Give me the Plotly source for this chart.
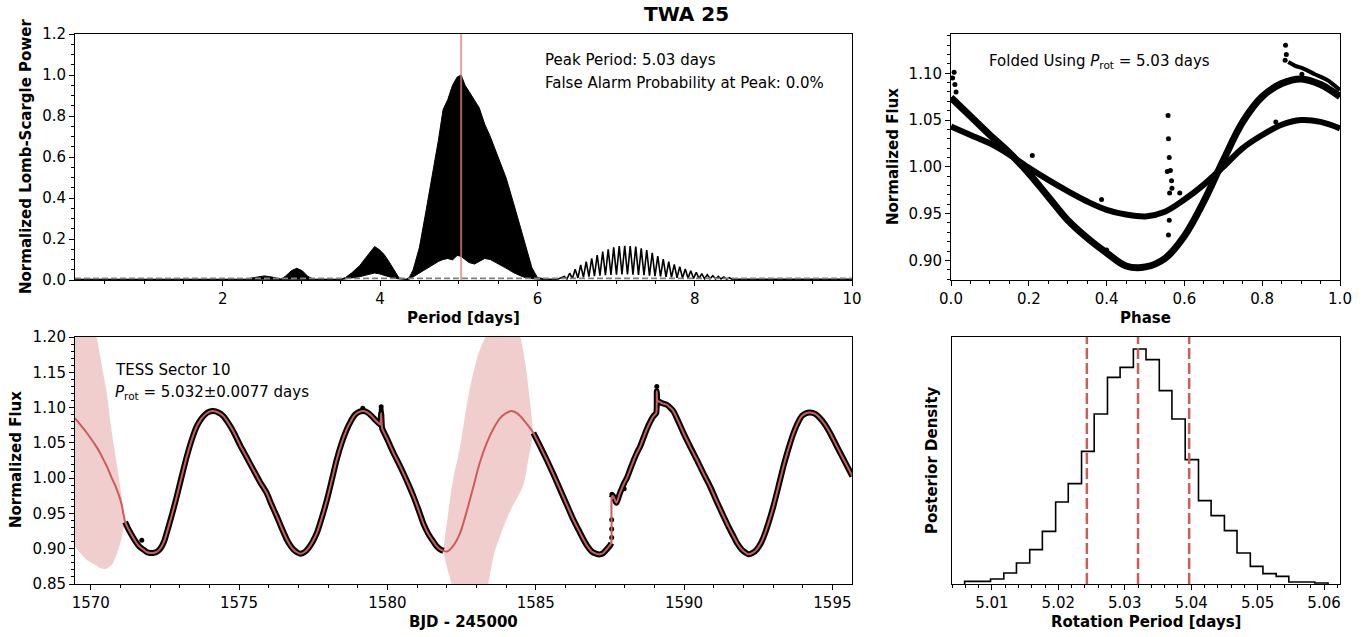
import plotly.graph_objects as go

# ---------------- Periodogram (top-left) ----------------
ls_env_period = [0.12, 2.30, 2.40, 2.53, 2.66, 2.74, 2.80, 2.87, 2.94, 3.01,
                 3.08, 3.15, 3.50, 3.56, 3.64, 3.74, 3.82, 3.87, 3.93, 3.99,
                 4.05, 4.12, 4.18, 4.24, 4.33, 4.37, 4.42, 4.50, 4.58, 4.66,
                 4.74, 4.80, 4.86, 4.92, 4.98, 5.03, 5.08, 5.13, 5.20, 5.26,
                 5.33, 5.40, 5.50, 5.60, 5.70, 5.80, 5.87, 5.93, 6.00, 6.10, 6.25]
ls_env_upper = [0.004, 0.004, 0.012, 0.020, 0.012, 0.004, 0.020, 0.045, 0.057, 0.045,
                0.018, 0.004, 0.004, 0.012, 0.035, 0.070, 0.110, 0.135, 0.163, 0.148,
                0.125, 0.085, 0.049, 0.010, 0.004, 0.012, 0.050, 0.160, 0.330, 0.500,
                0.680, 0.830, 0.880, 0.950, 0.990, 1.000, 0.950, 0.920, 0.880, 0.840,
                0.760, 0.700, 0.600, 0.500, 0.370, 0.240, 0.140, 0.060, 0.012, 0.005, 0.004]
ls_env_lower = [0.002, 0.002, 0.003, 0.004, 0.003, 0.002, 0.003, 0.004, 0.005, 0.004,
                0.003, 0.002, 0.002, 0.004, 0.010, 0.016, 0.024, 0.030, 0.034, 0.030,
                0.024, 0.015, 0.008, 0.004, 0.002, 0.004, 0.015, 0.035, 0.055, 0.072,
                0.090, 0.100, 0.105, 0.098, 0.120, 0.115, 0.100, 0.085, 0.078, 0.090,
                0.105, 0.100, 0.080, 0.058, 0.035, 0.018, 0.008, 0.004, 0.003, 0.002, 0.002]

ls_peak_period = [6.34, 6.41, 6.48, 6.55, 6.62, 6.69, 6.76, 6.83, 6.90, 6.97,
                  7.04, 7.11, 7.18, 7.25, 7.32, 7.39, 7.46, 7.53, 7.60, 7.67,
                  7.74, 7.81, 7.88, 7.95, 8.02, 8.09, 8.16, 8.23, 8.30, 8.37, 8.44]
ls_peak_power = [0.017, 0.033, 0.052, 0.073, 0.089, 0.106, 0.122, 0.138, 0.150, 0.159,
                 0.166, 0.167, 0.166, 0.163, 0.154, 0.146, 0.133, 0.117, 0.102, 0.089,
                 0.076, 0.065, 0.054, 0.045, 0.037, 0.031, 0.026, 0.021, 0.018, 0.015, 0.011]
ls_trough_period = [6.375, 6.445, 6.515, 6.585, 6.655, 6.725, 6.795, 6.865, 6.935, 7.005,
                    7.075, 7.145, 7.215, 7.285, 7.355, 7.425, 7.495, 7.565, 7.635, 7.705,
                    7.775, 7.845, 7.915, 7.985, 8.055, 8.125, 8.195, 8.265, 8.335, 8.405, 8.475]
ls_trough_power = [0.005, 0.007, 0.010, 0.013, 0.016, 0.019, 0.021, 0.023, 0.025, 0.026,
                   0.027, 0.027, 0.026, 0.025, 0.023, 0.021, 0.019, 0.017, 0.015, 0.013,
                   0.011, 0.010, 0.009, 0.008, 0.007, 0.006, 0.006, 0.005, 0.005, 0.004, 0.004]
ls_tail_period = [8.55, 10.0]
ls_tail_power = [0.004, 0.003]
ls_start_period = [6.25]
ls_start_power = [0.003]

peak_period = 5.03
fap_level = 0.008

# ---------------- Folded light curve (top-right) ----------------
fold_phase = [0.00, 0.05, 0.10, 0.15, 0.20, 0.25, 0.30, 0.35, 0.40, 0.45, 0.50,
              0.55, 0.60, 0.65, 0.70, 0.75, 0.80, 0.85, 0.90, 0.95, 1.00]
fold_flux_a = [1.074, 1.054, 1.034, 1.015, 0.993, 0.968, 0.943, 0.924, 0.908, 0.894, 0.893,
               0.902, 0.926, 0.963, 1.007, 1.048, 1.075, 1.089, 1.094, 1.088, 1.075]
fold_flux_b = [1.043, 1.034, 1.025, 1.013, 0.999, 0.986, 0.974, 0.963, 0.954, 0.949, 0.947,
               0.952, 0.965, 0.981, 1.000, 1.020, 1.034, 1.045, 1.050, 1.048, 1.041]
fold_phase_flare = [0.867, 0.885, 0.906, 0.935, 0.966, 1.000]
fold_flux_flare = [1.112, 1.108, 1.105, 1.099, 1.093, 1.082]
fold_out_phase = [0.008, 0.004, 0.010, 0.013, 0.209, 0.387, 0.400, 0.558, 0.559, 0.561,
                  0.556, 0.564, 0.567, 0.568, 0.562, 0.561, 0.559, 0.588, 0.835, 0.860,
                  0.862, 0.859, 0.902]
fold_out_flux = [1.101, 1.095, 1.088, 1.080, 1.012, 0.965, 0.911, 1.055, 1.030, 1.010,
                 0.995, 0.996, 0.985, 0.977, 0.972, 0.943, 0.927, 0.972, 1.048, 1.130,
                 1.120, 1.114, 1.099]
p_fold = 5.03

# ---------------- Light curve (bottom-left) ----------------
lc1_time = [1571.16, 1571.28, 1571.40, 1571.50, 1571.60, 1571.70, 1571.80, 1571.90, 1572.00, 1572.10,
            1572.20, 1572.30, 1572.39, 1572.48, 1572.56, 1572.73, 1572.90, 1573.07, 1573.24, 1573.41,
            1573.57, 1573.71, 1573.85, 1573.99, 1574.13, 1574.30, 1574.47, 1574.64, 1574.81, 1575.03,
            1575.25, 1575.48, 1575.70, 1575.93, 1576.10, 1576.27, 1576.44, 1576.61, 1576.72, 1576.83,
            1576.95, 1577.06, 1577.20, 1577.34, 1577.48, 1577.62, 1577.79, 1577.96, 1578.13, 1578.29,
            1578.46, 1578.63, 1578.77, 1578.91, 1579.05, 1579.19, 1579.33, 1579.47, 1579.60, 1579.70,
            1579.76, 1579.79, 1579.82, 1579.87, 1580.03, 1580.20, 1580.37, 1580.54, 1580.71, 1580.88,
            1581.05, 1581.21, 1581.38, 1581.55, 1581.67, 1581.78, 1581.89]
lc1_flux = [0.938, 0.927, 0.918, 0.911, 0.905, 0.901, 0.898, 0.895, 0.894, 0.894,
            0.895, 0.898, 0.903, 0.911, 0.922, 0.947, 0.974, 1.003, 1.031, 1.055,
            1.073, 1.083, 1.090, 1.094, 1.095, 1.093, 1.088, 1.078, 1.066, 1.047,
            1.030, 1.012, 0.995, 0.979, 0.962, 0.946, 0.929, 0.913, 0.905, 0.899,
            0.895, 0.893, 0.895, 0.901, 0.910, 0.922, 0.944, 0.969, 0.998, 1.026,
            1.050, 1.069, 1.081, 1.090, 1.094, 1.095, 1.093, 1.088, 1.082, 1.078,
            1.076, 1.092, 1.071, 1.066, 1.052, 1.036, 1.022, 1.007, 0.991, 0.974,
            0.955, 0.936, 0.921, 0.910, 0.903, 0.899, 0.897]

lc2_time = [1584.92, 1585.15, 1585.37, 1585.60, 1585.82, 1586.05, 1586.27, 1586.44, 1586.61, 1586.75,
            1586.89, 1587.03, 1587.17, 1587.28, 1587.39, 1587.51, 1587.55, 1587.56, 1587.60, 1587.66,
            1587.72, 1587.77, 1587.83, 1587.90, 1587.98, 1588.07, 1588.18, 1588.29, 1588.40, 1588.52,
            1588.63, 1588.74, 1588.86, 1588.97, 1589.06, 1589.08, 1589.10, 1589.13, 1589.27, 1589.42,
            1589.53, 1589.64, 1589.81, 1589.98, 1590.20, 1590.43, 1590.65, 1590.88, 1591.10, 1591.33,
            1591.50, 1591.66, 1591.80, 1591.94, 1592.05, 1592.17, 1592.31, 1592.45, 1592.59, 1592.73,
            1592.87, 1593.01, 1593.18, 1593.35, 1593.52, 1593.69, 1593.83, 1593.97, 1594.11, 1594.25,
            1594.42, 1594.58, 1594.75, 1594.92, 1595.09, 1595.26, 1595.46, 1595.67]
lc2_flux = [1.064, 1.045, 1.026, 1.005, 0.984, 0.962, 0.941, 0.927, 0.913, 0.903,
            0.896, 0.893, 0.892, 0.894, 0.899, 0.905, 0.908, 0.972, 0.975, 0.970,
            0.965, 0.970, 0.978, 0.985, 0.993, 1.000, 1.012, 1.024, 1.035, 1.045,
            1.057, 1.069, 1.080, 1.088, 1.092, 1.123, 1.109, 1.109, 1.106, 1.104,
            1.100, 1.095, 1.080, 1.064, 1.045, 1.026, 1.007, 0.988, 0.967, 0.946,
            0.931, 0.918, 0.907, 0.899, 0.895, 0.892, 0.894, 0.899, 0.908, 0.922,
            0.940, 0.960, 0.988, 1.017, 1.042, 1.064, 1.078, 1.088, 1.092, 1.093,
            1.091, 1.085, 1.076, 1.064, 1.050, 1.036, 1.020, 1.003]
lc2_jump_index = 17   # the flux jumps between lc2_time[16] and lc2_time[17]

gp0_time = [1569.47, 1569.87, 1570.20, 1570.31, 1570.48, 1570.54, 1570.71, 1570.82, 1570.93, 1571.04, 1571.10, 1571.16]
gp0_flux = [1.085, 1.064, 1.044, 1.036, 1.022, 1.017, 1.000, 0.990, 0.978, 0.963, 0.950, 0.938]
gp0_upper = [1.320, 1.260, 1.200, 1.175, 1.135, 1.121, 1.065, 1.036, 1.005, 0.974, 0.955, 0.939]
gp0_lower = [0.903, 0.884, 0.876, 0.873, 0.871, 0.872, 0.877, 0.886, 0.899, 0.915, 0.927, 0.937]

gp1_time = [1581.89, 1582.00, 1582.20, 1582.45, 1582.70, 1582.90, 1583.10, 1583.35, 1583.60, 1583.80,
            1584.00, 1584.19, 1584.40, 1584.58, 1584.75, 1584.92]
gp1_flux = [0.897, 0.896, 0.903, 0.922, 0.957, 0.988, 1.020, 1.050, 1.072, 1.085,
            1.092, 1.095, 1.091, 1.083, 1.074, 1.064]
gp1_upper = [0.900, 0.935, 0.995, 1.045, 1.110, 1.150, 1.180, 1.205, 1.240, 1.260,
             1.265, 1.250, 1.215, 1.180, 1.130, 1.064]
gp1_lower = [0.896, 0.875, 0.845, 0.810, 0.790, 0.785, 0.800, 0.840, 0.893, 0.918,
             0.940, 0.958, 0.974, 0.990, 1.026, 1.064]

lc_out_time = [1571.72, 1579.17, 1579.79, 1579.79, 1579.80, 1587.57, 1587.56, 1587.56, 1587.56, 1589.08, 1587.98]
lc_out_flux = [0.912, 1.099, 1.101, 1.097, 1.093, 0.977, 0.941, 0.928, 0.916, 1.130, 0.985]
sector_label = "TESS Sector 10"
prot_med, prot_err = 5.032, 0.0077

# ---------------- Posterior histogram (bottom-right) ----------------
hist_edges = [5.0059, 5.0078, 5.0098, 5.0118, 5.0137, 5.0157, 5.0176, 5.0196, 5.0215, 5.0235,
              5.0254, 5.0274, 5.0293, 5.0313, 5.0332, 5.0352, 5.0371, 5.0391, 5.0411, 5.0430,
              5.0450, 5.0469, 5.0489, 5.0508, 5.0528, 5.0547, 5.0567, 5.0586, 5.0606]
hist_counts = [8, 8, 15, 33, 63, 103, 158, 246, 301, 398,
               510, 620, 650, 705, 673, 580, 495, 373, 250, 205,
               160, 93, 53, 31, 23, 6, 6, 3]
post_lines = [5.0243, 5.0320, 5.0397]

assert len(ls_env_period) == len(ls_env_upper) == len(ls_env_lower)
assert len(lc1_time) == len(lc1_flux), (len(lc1_time), len(lc1_flux))
assert len(lc2_time) == len(lc2_flux), (len(lc2_time), len(lc2_flux))
assert len(hist_edges) == len(hist_counts) + 1

RED = "#CD5C5C"
BAND = "rgba(205,92,92,0.30)"
FONT = "DejaVu Sans"

W, H = 1370, 637


def PX(px):
    return px / W


def PY(py):
    return 1 - py / H


fig = go.Figure()

# periodogram envelope
fig.add_trace(go.Scatter(
    x=ls_env_period + ls_env_period[::-1],
    y=ls_env_upper + ls_env_lower[::-1],
    fill="toself", fillcolor="black", mode="lines",
    line=dict(color="black", width=1), xaxis="x", yaxis="y", hoverinfo="skip"))
zig_x, zig_y = list(ls_start_period), list(ls_start_power)
for pp, pw, tp, tw in zip(ls_peak_period, ls_peak_power, ls_trough_period, ls_trough_power):
    zig_x += [pp, tp]
    zig_y += [pw, tw]
zig_x += ls_tail_period
zig_y += ls_tail_power
fig.add_trace(go.Scatter(x=zig_x, y=zig_y, mode="lines",
                         line=dict(color="black", width=1.6), xaxis="x", yaxis="y"))

# folded
fig.add_trace(go.Scatter(x=fold_phase, y=fold_flux_b, mode="lines", line_shape="spline",
                         line=dict(color="black", width=6), xaxis="x2", yaxis="y2"))
fig.add_trace(go.Scatter(x=fold_phase, y=fold_flux_a, mode="lines", line_shape="spline",
                         line=dict(color="black", width=7), xaxis="x2", yaxis="y2"))
fig.add_trace(go.Scatter(x=fold_phase_flare, y=fold_flux_flare, mode="lines", line_shape="spline",
                         line=dict(color="black", width=4), xaxis="x2", yaxis="y2"))
fig.add_trace(go.Scatter(x=fold_out_phase, y=fold_out_flux, mode="markers",
                         marker=dict(color="black", size=5), xaxis="x2", yaxis="y2"))

# light curve bands
for tt, up, lo in [(gp0_time, gp0_upper, gp0_lower), (gp1_time, gp1_upper, gp1_lower)]:
    fig.add_trace(go.Scatter(x=tt + tt[::-1], y=up + lo[::-1], fill="toself",
                             fillcolor=BAND, mode="lines", line=dict(width=0, color=BAND),
                             line_shape="spline", xaxis="x3", yaxis="y3"))
j = lc2_jump_index
for tt, ff in [(lc1_time, lc1_flux), (lc2_time[:j], lc2_flux[:j]), (lc2_time[j:], lc2_flux[j:])]:
    fig.add_trace(go.Scatter(x=tt, y=ff, mode="lines", line_shape="spline",
                             line=dict(color="black", width=6, smoothing=0.6),
                             xaxis="x3", yaxis="y3"))
fig.add_trace(go.Scatter(x=lc_out_time, y=lc_out_flux, mode="markers",
                         marker=dict(color="black", size=5), xaxis="x3", yaxis="y3"))
gp_t = gp0_time + lc1_time[1:] + gp1_time[1:] + lc2_time[1:]
gp_f = gp0_flux + lc1_flux[1:] + gp1_flux[1:] + lc2_flux[1:]
fig.add_trace(go.Scatter(x=gp_t, y=gp_f, mode="lines", line_shape="spline",
                         line=dict(color=RED, width=2, smoothing=0.6),
                         xaxis="x3", yaxis="y3"))

# histogram step
hx = [hist_edges[0]] + hist_edges[:-1] + [hist_edges[-1]]
hy = [0] + hist_counts + [0]
fig.add_trace(go.Scatter(x=hx, y=hy, mode="lines", line_shape="hv",
                         line=dict(color="black", width=1.6), xaxis="x4", yaxis="y4"))

shapes = [
    dict(type="line", xref="x", yref="y domain", x0=peak_period, x1=peak_period, y0=0, y1=1,
         line=dict(color="rgba(220,130,130,0.75)", width=2), layer="above"),
    dict(type="line", xref="x domain", yref="y", x0=0, x1=1, y0=fap_level, y1=fap_level,
         line=dict(color="#808080", width=1.6, dash="6px,3px"), layer="above"),
]
for v in post_lines:
    shapes.append(dict(type="line", xref="x4", yref="y4 domain", x0=v, x1=v, y0=0, y1=1,
                       line=dict(color=RED, width=2.5, dash="11px,4px"), layer="above"))


def ax(**kw):
    d = dict(showline=True, linecolor="black", linewidth=1, mirror=True, ticks="outside",
             ticklen=5, tickwidth=1, tickcolor="black", showgrid=False, zeroline=False,
             automargin=False,
             tickfont=dict(family=FONT, size=15, color="black"))
    d.update(kw)
    return d


def mn(dt):
    return dict(ticks="outside", ticklen=3, tickwidth=1, tickcolor="black", dtick=dt, showgrid=False)


X1 = [PX(75), PX(852)]
X2 = [PX(951), PX(1340)]
X4 = [PX(952), PX(1340)]
YT = [PY(280), PY(34)]
YB = [PY(584), PY(337)]


def ann(text, x, y, size=15, angle=0, xanchor="center", bold=False):
    return dict(text=f"<b>{text}</b>" if bold else text, x=PX(x), y=PY(y), xref="paper", yref="paper",
                showarrow=False, textangle=angle, xanchor=xanchor, yanchor="middle",
                font=dict(family=FONT, size=size, color="black"))


annotations = [
    ann("TWA 25", 686, 14, size=20, bold=True),
    ann("Normalized Lomb-Scargle Power", 26, 157, angle=-90, bold=True),
    ann("Period [days]", 463, 318, bold=True),
    ann("Normalized Flux", 893, 157, angle=-90, bold=True),
    ann("Phase", 1145, 318, bold=True),
    ann("Normalized Flux", 16, 460, angle=-90, bold=True),
    ann("BJD - 245000", 463, 622, bold=True),
    ann("Rotation Period [days]", 1146, 622, bold=True),
    ann("Posterior Density", 932, 460, angle=-90, bold=True),
    ann(f"Peak Period: {peak_period:.2f} days", 543, 60, xanchor="left"),
    ann("False Alarm Probability at Peak: 0.0%", 543, 83, xanchor="left"),
    ann(f"Folded Using <i>P</i><sub>rot</sub> = {p_fold:.2f} days", 987, 62, xanchor="left"),
    ann(sector_label, 113, 370, xanchor="left"),
    ann(f"<i>P</i><sub>rot</sub> = {prot_med:.3f}±{prot_err:.4f} days", 113, 392, xanchor="left"),
]

fig.update_layout(
    width=W, height=H, autosize=False,
    margin=dict(l=0, r=0, t=0, b=0),
    paper_bgcolor="white", plot_bgcolor="white",
    showlegend=False, hovermode=False,
    font=dict(family=FONT, size=15, color="black"),
    shapes=shapes, annotations=annotations,
    xaxis=ax(domain=X1, anchor="y", range=[0.12, 10], tickmode="linear", tick0=0, dtick=2, minor=mn(0.5)),
    yaxis=ax(domain=YT, anchor="x", range=[0, 1.2], tickmode="linear", tick0=0, dtick=0.2,
             tickformat=".1f", minor=mn(0.05)),
    xaxis2=ax(domain=X2, anchor="y2", range=[0, 1], tickmode="linear", tick0=0, dtick=0.2,
              tickformat=".1f", minor=mn(0.05)),
    yaxis2=ax(domain=YT, anchor="x2", range=[0.879, 1.142], tickmode="linear", tick0=0.9, dtick=0.05,
              tickformat=".2f", minor=mn(0.01)),
    xaxis3=ax(domain=X1, anchor="y3", range=[1569.47, 1595.66], tickmode="linear", tick0=1570, dtick=5,
              minor=mn(1)),
    yaxis3=ax(domain=YB, anchor="x3", range=[0.85, 1.20], tickmode="linear", tick0=0.85, dtick=0.05,
              tickformat=".2f", minor=mn(0.01)),
    xaxis4=ax(domain=X4, anchor="y4", range=[5.004, 5.0624], tickmode="linear",
              tick0=5.0, dtick=0.01, tickformat=".2f", minor=mn(0.002)),
    yaxis4=ax(domain=YB, anchor="x4", range=[0, 741], showticklabels=False, ticks=""),
)

# remove the browser's default 8px page margin so the figure fills the window exactly
fig.write_html("out.html", config=dict(displayModeBar=False),
               post_script="document.body.style.margin='0px';")
